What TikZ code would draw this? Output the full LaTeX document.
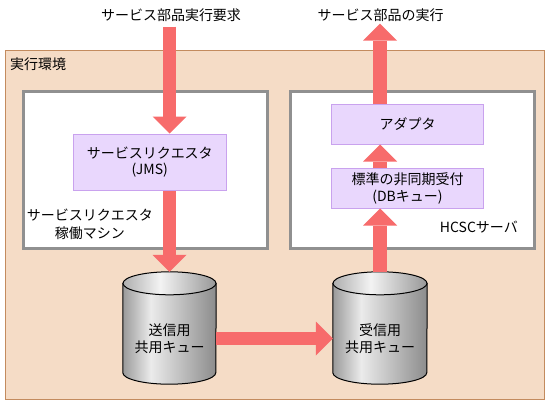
\documentclass[tikz,border=0pt]{standalone}
\usepackage{fontspec}
\setmainfont{Noto Sans CJK JP}
\usetikzlibrary{arrows.meta,calc}
\definecolor{peach}{HTML}{F5DCC6}
\definecolor{peachborder}{HTML}{C38B5E}
\definecolor{boxgray}{HTML}{909090}
\definecolor{lav}{HTML}{E9D7FD}
\definecolor{lavborder}{HTML}{C9A2EE}
\definecolor{arrowred}{HTML}{F76B6B}
\definecolor{cylA}{HTML}{9A9A9A}
\definecolor{cylB}{HTML}{EBEBEB}
\definecolor{cylC}{HTML}{8C8C8C}
\pgfdeclarehorizontalshading{cylbody}{100bp}{color(0bp)=(cylA); color(25bp)=(cylA); color(40bp)=(cylB); color(75bp)=(cylC); color(100bp)=(cylC)}
\pgfdeclarehorizontalshading{cyltop}{100bp}{color(0bp)=(cylA); color(25bp)=(cylA!80!white); color(45bp)=(cylB!60!white); color(75bp)=(cylC!90!white); color(100bp)=(cylC)}
\newcommand\drawcyl[2]{%
  \shadedraw[shading=cylbody, line width=1pt]
    ($(#1.north west)+(0,11.5)$) -- ($(#1.south west)+(0,-11.5)$)
    arc[start angle=180, end angle=0, x radius=#2, y radius=11.5]
    -- ($(#1.north east)+(0,11.5)$) -- cycle;
  \shadedraw[shading=cyltop, line width=1pt]
    ($(#1.north)+(0,11.5)$) ellipse[x radius=#2, y radius=11.5];
}
\tikzset{
  jtext/.style={inner sep=0pt, align=center, font=\fontsize{14}{17}\selectfont},
  envbox/.style={draw=peachborder, fill=peach, line width=1pt, anchor=north west, inner sep=0pt},
  machinebox/.style={draw=boxgray, fill=white, line width=3pt, anchor=north west, inner sep=0pt},
  lavbox/.style={draw=lavborder, fill=lav, line width=1pt, anchor=north west, inner sep=0pt, align=center, font=\fontsize{14}{16.5}\selectfont},
  cylslot/.style={inner sep=0pt, minimum height=112pt},
  blockarrow/.style={draw=arrowred, line width=13.5pt, -{Triangle[width=34pt,length=17pt,line width=0pt]}}
}
\begin{document}
\begin{tikzpicture}[x=1pt, y=-1pt]
\useasboundingbox (0,0) rectangle (547,415);
% containers
\node[envbox, minimum width=539pt, minimum height=349pt] (env) at (4.5,49.5) {};
\node[jtext, anchor=west] (envlabel) at (10,64) {実行環境};
\node[machinebox, minimum width=244pt, minimum height=157pt] (machine) at (21.5,90) {};
\node[machinebox, minimum width=244.5pt, minimum height=157pt] (server) at (288.5,90) {};
\node[jtext, font=\fontsize{14}{18}\selectfont] (machinelabel) at (90,224) {サービスリクエスタ\\稼働マシン};
\node[jtext, anchor=east] (serverlabel) at (518,227) {HCSCサーバ};
% inner boxes
\node[lavbox, minimum width=153.5pt, minimum height=56.5pt] (jms) at (72.5,133.5) {サービスリクエスタ\\(JMS)};
\node[lavbox, minimum width=152pt, minimum height=39.5pt] (adapter) at (331,104) {アダプタ};
\node[lavbox, minimum width=152pt, minimum height=39.5pt] (std) at (331,168) {標準の非同期受付\\(DBキュー)};
% queues
\node[cylslot, minimum width=93pt] (sendq) at (169.5,328) {};
\node[cylslot, minimum width=94pt] (recvq) at (380,328) {};
\drawcyl{sendq}{46.5}
\drawcyl{recvq}{47}
\node[jtext] (sendqt) at (169.5,338.5) {送信用\\共用キュー};
\node[jtext] (recvqt) at (380,338.5) {受信用\\共用キュー};
% titles
\node[jtext] (req) at (171,15) {サービス部品実行要求};
\node[jtext] (exec) at (380.5,15) {サービス部品の実行};
% arrows
\draw[blockarrow, shorten <=5pt] (req.south -| sendq.north) -- (jms.north -| sendq.north);
\draw[blockarrow] (jms.south -| sendq.north) -- (sendq.north);
\draw[blockarrow] (sendqt.center -| sendq.east) -- (sendqt.center -| recvq.west);
\draw[blockarrow] (recvq.north) -- (std.south -| recvq.north);
\draw[blockarrow] (std.north -| recvq.north) -- (adapter.south -| recvq.north);
\draw[blockarrow, shorten >=2pt] (adapter.north -| recvq.north) -- (exec.south -| recvq.north);
\end{tikzpicture}
\end{document}
